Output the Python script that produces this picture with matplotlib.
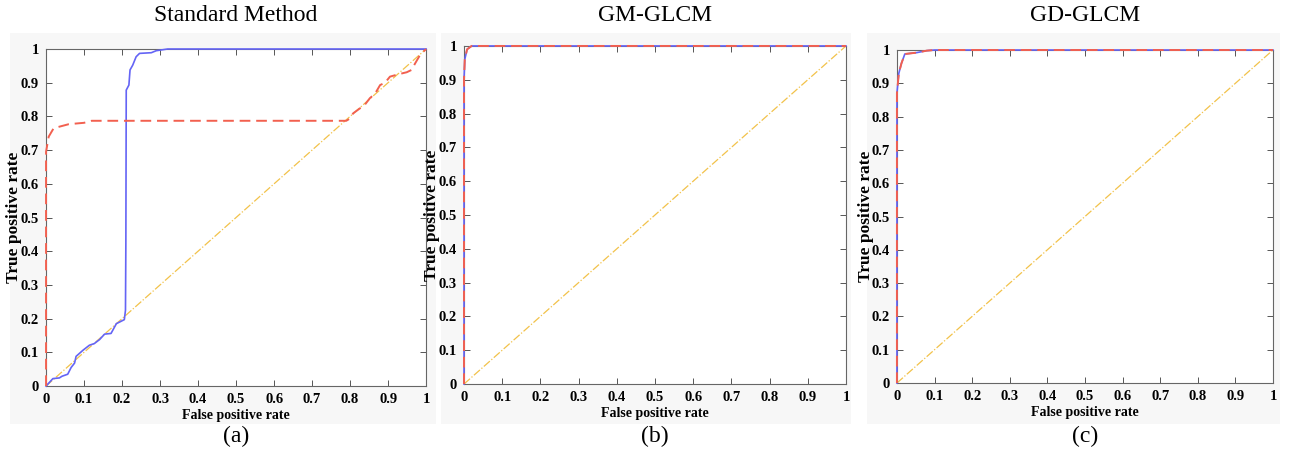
import matplotlib
matplotlib.use('Agg')
import matplotlib.pyplot as plt
from matplotlib.patches import Rectangle
import numpy as np

plt.rcParams['font.family'] = ['Liberation Serif', 'DejaVu Serif']

# ROC curves (false positive rate, true positive rate)
std_blue_fpr = [0, 0.018, 0.035, 0.042, 0.057, 0.066, 0.075, 0.079, 0.097, 0.114,
                0.127, 0.141, 0.154, 0.171, 0.185, 0.206, 0.209, 0.210, 0.211, 0.218,
                0.221, 0.228, 0.237, 0.246, 0.277, 0.29, 0.32, 1.0]
std_blue_tpr = [0, 0.022, 0.024, 0.029, 0.035, 0.055, 0.068, 0.088, 0.106, 0.121,
                0.126, 0.138, 0.154, 0.156, 0.185, 0.197, 0.225, 0.424, 0.878, 0.893,
                0.938, 0.952, 0.977, 0.987, 0.989, 0.995, 1.0, 1.0]
std_red_fpr = [0, 0, 0.007, 0.02, 0.06, 0.10, 0.12, 0.79, 0.80, 0.808, 0.826, 0.835,
               0.852, 0.866, 0.879, 0.892, 0.905, 0.927, 0.949, 0.962, 0.971, 0.984, 1.0]
std_red_tpr = [0, 0.695, 0.74, 0.765, 0.777, 0.781, 0.787, 0.787, 0.794, 0.809, 0.824,
               0.829, 0.854, 0.868, 0.893, 0.9, 0.918, 0.925, 0.931, 0.938, 0.957, 0.982, 1.0]

gm_fpr = [0, 0, 0.002, 0.008, 0.02, 1.0]
gm_tpr = [0, 0.9, 0.96, 0.99, 1.0, 1.0]

gd_fpr = [0, 0, 0.005, 0.012, 0.021, 0.052, 0.079, 0.1, 1.0]
gd_tpr = [0, 0.87, 0.93, 0.96, 0.988, 0.992, 0.998, 1.0, 1.0]

chance = [0, 1]

titles = ['Standard Method', 'GM-GLCM', 'GD-GLCM']
captions = ['(a)', '(b)', '(c)']
tick_vals = [0, 0.1, 0.2, 0.3, 0.4, 0.5, 0.6, 0.7, 0.8, 0.9, 1]
tick_labels = ['0', '0.1', '0.2', '0.3', '0.4', '0.5', '0.6', '0.7', '0.8', '0.9', '1']

blue = '#6464f5'
red = '#f2604f'
yellow = '#f2c24a'

fig = plt.figure(figsize=(12.9, 4.55), dpi=100)

# light gray backdrop behind each panel
for x0, w in [(0.008, 0.330), (0.342, 0.318), (0.672, 0.320)]:
    fig.add_artist(Rectangle((x0, 0.068), w, 0.86, transform=fig.transFigure,
                             facecolor='#f7f7f7', edgecolor='none', zorder=-10))

boxes = [
    [0.0357, 0.1516, 0.2946, 0.7407],
    [0.3597, 0.1560, 0.2961, 0.7430],
    [0.6953, 0.1582, 0.2915, 0.7319],
]

curves = [
    (std_blue_fpr, std_blue_tpr, std_red_fpr, std_red_tpr),
    (gm_fpr, gm_tpr, gm_fpr, gm_tpr),
    (gd_fpr, gd_tpr, gd_fpr, gd_tpr),
]

for i, box in enumerate(boxes):
    ax = fig.add_axes(box)
    ax.set_zorder(1)
    bx, by, rx, ry = curves[i]
    ax.plot(chance, chance, color=yellow, lw=0.9, ls='-.')
    ax.plot(bx, by, color=blue, lw=1.2, clip_on=False, zorder=3)
    ax.plot(rx, ry, color=red, lw=1.4, ls=(0, (5.5, 3)), clip_on=False, zorder=4)
    ax.set_xlim(0, 1)
    ax.set_ylim(0, 1)
    ax.set_xticks(tick_vals)
    ax.set_xticklabels(tick_labels)
    ax.set_yticks(tick_vals)
    ax.set_yticklabels(tick_labels)
    ax.tick_params(direction='in', top=True, right=True, length=4, width=0.7,
                   color='#555555', labelsize=10.5, pad=5)
    for lab in ax.get_xticklabels() + ax.get_yticklabels():
        lab.set_fontweight('bold')
    for sp in ax.spines.values():
        sp.set_color('#666666')
        sp.set_linewidth(0.8)
    ax.set_xlabel('False positive rate', fontweight='bold', fontsize=10, labelpad=2)
    ax.set_ylabel('True positive rate', fontweight='bold', fontsize=12.5)
    ax.yaxis.set_label_coords(-0.062, 0.5)
    cx = box[0] + box[2] / 2
    fig.text(cx, 0.965, titles[i], ha='center', va='center', fontsize=17)
    fig.text(cx, 0.04, captions[i], ha='center', va='center', fontsize=17)

fig.savefig('out.png', dpi=100)
